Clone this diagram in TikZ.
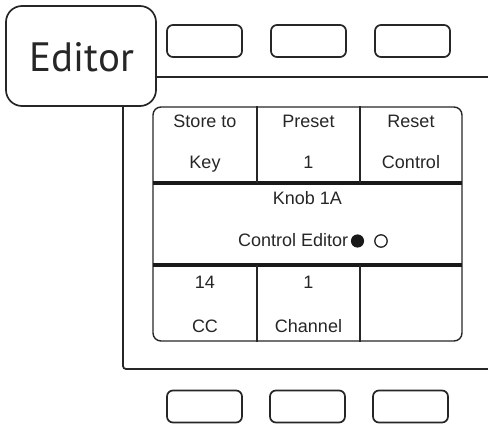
\documentclass[tikz,border=0pt]{standalone}
\usepackage{fontspec}
\setmainfont{Liberation Sans}
\newfontfamily\edfont{PT Sans}
\begin{document}
\begin{tikzpicture}[x=1pt,y=-1pt,
  btn/.style={draw=black!85,line width=1.7pt,rounded corners=6pt,minimum width=75pt,minimum height=32pt,inner sep=0pt},
  lbl/.style={anchor=base,inner sep=0pt,font=\fontsize{18}{20}\selectfont,text=black!85},
  frameline/.style={draw=black!85,line width=1.8pt},
  thick sep/.style={draw=black!90,line width=4.8pt},
  divider/.style={draw=black!85,line width=1.8pt}]
\useasboundingbox (0,0) rectangle (488,425);
% top buttons
\node[btn] (t1) at (204.5,41) {};
\node[btn] (t2) at (308.5,41) {};
\node[btn] (t3) at (412.5,41) {};
% bottom buttons
\node[btn] (b1) at (204.5,406.5) {};
\node[btn] (b2) at (307.5,406.5) {};
\node[btn] (b3) at (410.5,406.5) {};
% editor tab
\node[draw=black!85,line width=1.7pt,rounded corners=16pt,minimum width=150pt,minimum height=100pt,inner sep=0pt] (ed) at (81,56) {};
\node[anchor=base,inner sep=0pt,font=\edfont\fontsize{41}{44}\selectfont,text=black!85] (edt) at (82,72) {Editor};
% frame
\coordinate (ftr) at (488,77);
\coordinate (fbr) at (488,369);
\coordinate (fbl) at (123,369);
\draw[frameline] (ed.east |- ftr) -- (ftr);
\draw[frameline,rounded corners=3pt] (ed.south -| fbl) -- (fbl) -- (fbr);
% screen
\node[draw=black!85,line width=1.4pt,rounded corners=8pt,minimum width=309pt,minimum height=234pt,inner sep=0pt] (scr) at (307.5,224) {};
\coordinate (s1l) at (153,183);
\coordinate (s1r) at (462,183);
\coordinate (s2l) at (153,265);
\coordinate (s2r) at (462,265);
\draw[thick sep] (s1l) -- (s1r);
\draw[thick sep] (s2l) -- (s2r);
\coordinate (d1a) at (257,183);
\coordinate (d2a) at (360,183);
\coordinate (d1b) at (257,265);
\coordinate (d2b) at (360,265);
\draw[divider] (d1a |- scr.north) -- (d1a);
\draw[divider] (d2a |- scr.north) -- (d2a);
\draw[divider] (d1b) -- (d1b |- scr.south);
\draw[divider] (d2b) -- (d2b |- scr.south);
% texts
\node[lbl] (c11) at (205,128) {Store to};
\node[lbl] (c12) at (205,169) {Key};
\node[lbl] (c21) at (308.5,128) {Preset};
\node[lbl] (c22) at (308.5,169) {1};
\node[lbl] (c31) at (411,128) {Reset};
\node[lbl] (c32) at (411,169) {Control};
\node[lbl] (k1) at (307.5,205) {Knob 1A};
\node[lbl,anchor=base west] (k2) at (238,247) {Control Editor};
\fill[black!90] (357.5,241) circle (6.6pt);
\draw[black!85,line width=1.3pt] (381,241) circle (6.2pt);
\node[lbl] (e11) at (205,288) {14};
\node[lbl] (e12) at (205,333) {CC};
\node[lbl] (e21) at (308.5,288) {1};
\node[lbl] (e22) at (308.5,333) {Channel};
\end{tikzpicture}
\end{document}
